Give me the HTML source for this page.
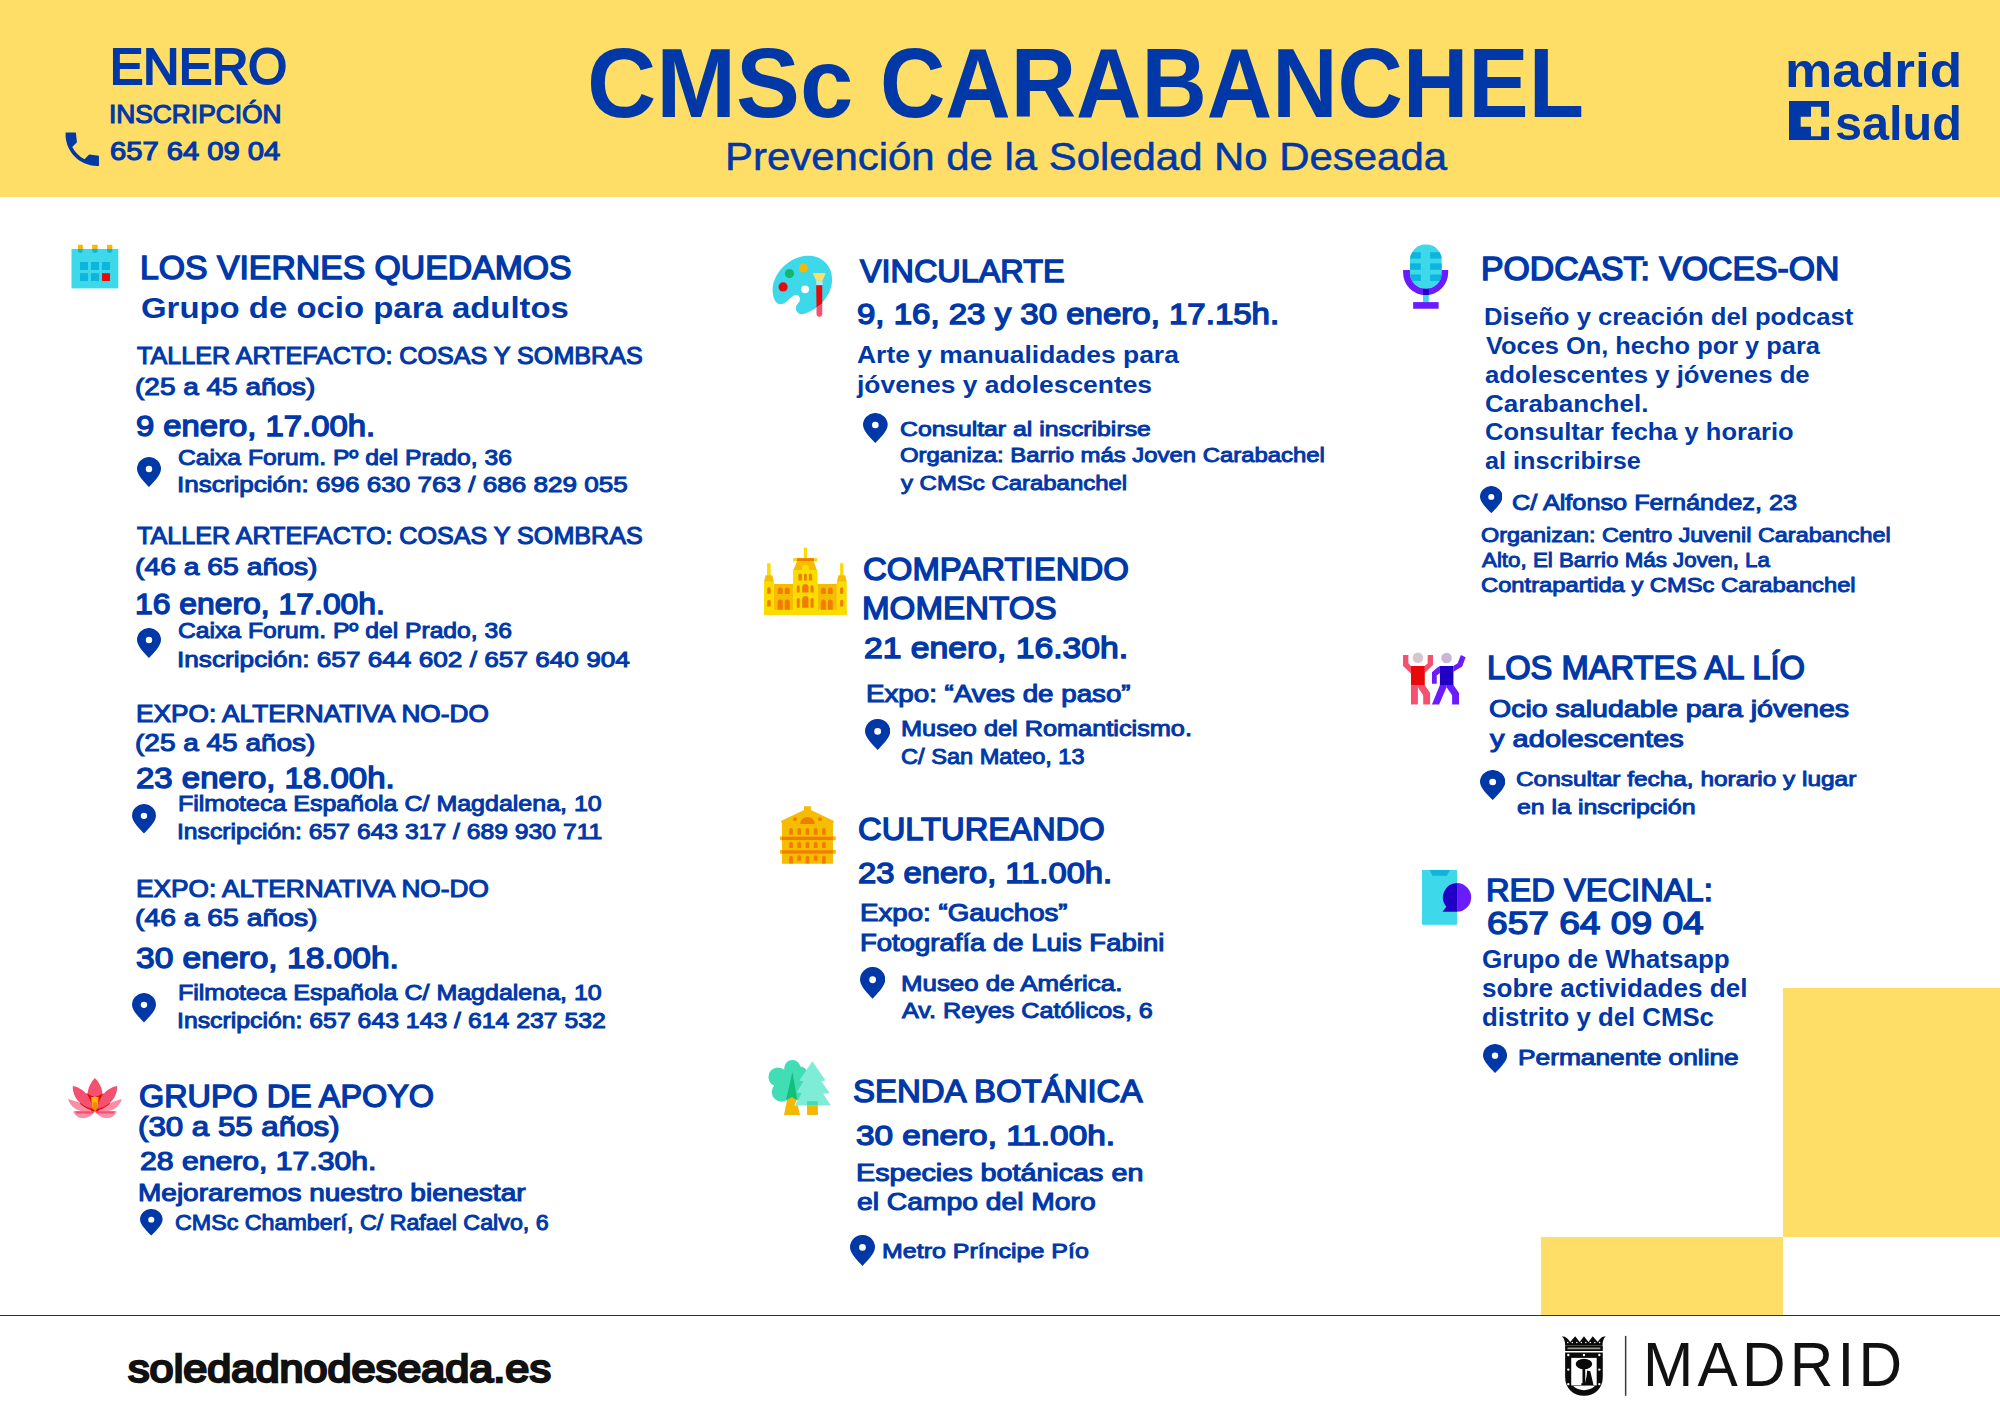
<!DOCTYPE html>
<html lang="es"><head><meta charset="utf-8"><title>CMSc Carabanchel</title>
<style>
html,body{margin:0;padding:0}
body{width:2000px;height:1414px;position:relative;overflow:hidden;background:#fff;font-family:"Liberation Sans",sans-serif}
.band{position:absolute;left:0;top:0;width:2000px;height:197.2px;background:#ffde67}
.sq{position:absolute;background:#ffde67}
.t{position:absolute;white-space:nowrap;line-height:1;color:#0038a8;transform-origin:0 0;-webkit-text-stroke-color:#0038a8}
.m{-webkit-text-stroke-width:0.045em}
.d{-webkit-text-stroke-width:0.047em}
.l{-webkit-text-stroke-width:0.014em}
.x{-webkit-text-stroke-width:0.06em}
.s,.b{font-weight:700}
.pin,.ic{position:absolute;display:block}
.rule{position:absolute;left:0;top:1315px;width:2000px;height:1.4px;background:#303030}
</style></head><body>
<div class="band"></div>
<div class="sq" style="left:1783px;top:987.5px;width:217px;height:249.5px"></div>
<div class="sq" style="left:1540.8px;top:1236.5px;width:242.4px;height:79px"></div>
<div class="rule"></div>
<div class="t m" style="left:109.67px;top:42.18px;font-size:49.28px;transform:scaleX(1.0099)">ENERO</div>
<div class="t m" style="left:109.27px;top:101.16px;font-size:26.28px;transform:scaleX(1.0015)">INSCRIPCIÓN</div>
<div class="t m" style="left:110.05px;top:139.04px;font-size:25.62px;transform:scaleX(1.1382)">657 64 09 04</div>
<div class="t b" style="left:587.04px;top:34.29px;font-size:98.18px;transform:scaleX(0.9762)">CMSc</div>
<div class="t b" style="left:880.01px;top:34.29px;font-size:98.18px;transform:scaleX(0.9221)">CARABANCHEL</div>
<div class="t l" style="left:725.46px;top:137.50px;font-size:38.08px;transform:scaleX(1.1002)">Prevención de la Soledad No Deseada</div>
<div class="t m" style="left:140.13px;top:251.68px;font-size:32.59px;transform:scaleX(1.0366)">LOS VIERNES QUEDAMOS</div>
<div class="t s" style="left:140.59px;top:293.18px;font-size:30.03px;transform:scaleX(1.0965)">Grupo de ocio para adultos</div>
<div class="t m" style="left:137.00px;top:344.37px;font-size:24.31px;transform:scaleX(1.0336)">TALLER ARTEFACTO: COSAS Y SOMBRAS</div>
<div class="t m" style="left:134.85px;top:374.87px;font-size:24.31px;transform:scaleX(1.1515)">(25 a 45 años)</div>
<div class="t d" style="left:136.21px;top:411.92px;font-size:28.83px;transform:scaleX(1.1384)">9 enero, 17.00h.</div>
<div class="t m" style="left:178.25px;top:446.59px;font-size:22.34px;transform:scaleX(1.1047)">Caixa Forum. Pº del Prado, 36</div>
<div class="t m" style="left:177.17px;top:474.09px;font-size:22.34px;transform:scaleX(1.1675)">Inscripción: 696 630 763 / 686 829 055</div>
<div class="t m" style="left:137.00px;top:523.87px;font-size:24.31px;transform:scaleX(1.0336)">TALLER ARTEFACTO: COSAS Y SOMBRAS</div>
<div class="t m" style="left:134.84px;top:554.87px;font-size:24.31px;transform:scaleX(1.1644)">(46 a 65 años)</div>
<div class="t d" style="left:135.31px;top:589.92px;font-size:28.83px;transform:scaleX(1.1058)">16 enero, 17.00h.</div>
<div class="t m" style="left:178.25px;top:619.59px;font-size:22.34px;transform:scaleX(1.1047)">Caixa Forum. Pº del Prado, 36</div>
<div class="t m" style="left:177.16px;top:648.59px;font-size:22.34px;transform:scaleX(1.1731)">Inscripción: 657 644 602 / 657 640 904</div>
<div class="t m" style="left:136.42px;top:701.87px;font-size:24.31px;transform:scaleX(1.0800)">EXPO: ALTERNATIVA NO-DO</div>
<div class="t m" style="left:134.85px;top:731.37px;font-size:24.31px;transform:scaleX(1.1515)">(25 a 45 años)</div>
<div class="t d" style="left:136.11px;top:763.92px;font-size:28.83px;transform:scaleX(1.1446)">23 enero, 18.00h.</div>
<div class="t m" style="left:177.56px;top:792.59px;font-size:22.34px;transform:scaleX(1.1194)">Filmoteca Española C/ Magdalena, 10</div>
<div class="t m" style="left:177.27px;top:820.59px;font-size:22.34px;transform:scaleX(1.1064)">Inscripción: 657 643 317 / 689 930 711</div>
<div class="t m" style="left:136.42px;top:876.87px;font-size:24.31px;transform:scaleX(1.0800)">EXPO: ALTERNATIVA NO-DO</div>
<div class="t m" style="left:134.84px;top:906.37px;font-size:24.31px;transform:scaleX(1.1644)">(46 a 65 años)</div>
<div class="t d" style="left:136.47px;top:943.92px;font-size:28.83px;transform:scaleX(1.1631)">30 enero, 18.00h.</div>
<div class="t m" style="left:177.56px;top:981.59px;font-size:22.34px;transform:scaleX(1.1194)">Filmoteca Española C/ Magdalena, 10</div>
<div class="t m" style="left:177.26px;top:1009.59px;font-size:22.34px;transform:scaleX(1.1107)">Inscripción: 657 643 143 / 614 237 532</div>
<div class="t m" style="left:139.07px;top:1080.59px;font-size:31.54px;transform:scaleX(1.0262)">GRUPO DE APOYO</div>
<div class="t m" style="left:137.74px;top:1114.09px;font-size:26.94px;transform:scaleX(1.1603)">(30 a 55 años)</div>
<div class="t d" style="left:139.50px;top:1147.50px;font-size:26.21px;transform:scaleX(1.1508)">28 enero, 17.30h.</div>
<div class="t m" style="left:138.36px;top:1182.45px;font-size:23.65px;transform:scaleX(1.1845)">Mejoraremos nuestro bienestar</div>
<div class="t m" style="left:174.80px;top:1211.59px;font-size:22.34px;transform:scaleX(1.0421)">CMSc Chamberí, C/ Rafael Calvo, 6</div>
<div class="t m" style="left:859.58px;top:254.63px;font-size:32.19px;transform:scaleX(1.0064)">VINCULARTE</div>
<div class="t d" style="left:857.20px;top:299.28px;font-size:30.14px;transform:scaleX(1.0958)">9, 16, 23 y 30 enero, 17.15h.</div>
<div class="t s" style="left:857.15px;top:343.47px;font-size:24.72px;transform:scaleX(1.0697)">Arte y manualidades para</div>
<div class="t s" style="left:857.41px;top:373.47px;font-size:24.72px;transform:scaleX(1.0684)">jóvenes y adolescentes</div>
<div class="t m" style="left:899.64px;top:417.73px;font-size:21.02px;transform:scaleX(1.1800)">Consultar al inscribirse</div>
<div class="t m" style="left:899.73px;top:444.33px;font-size:21.02px;transform:scaleX(1.1367)">Organiza: Barrio más Joven Carabachel</div>
<div class="t m" style="left:900.71px;top:471.53px;font-size:21.02px;transform:scaleX(1.1390)">y CMSc Carabanchel</div>
<div class="t m" style="left:863.38px;top:553.23px;font-size:32.19px;transform:scaleX(1.0236)">COMPARTIENDO</div>
<div class="t m" style="left:862.43px;top:591.63px;font-size:32.19px;transform:scaleX(1.0303)">MOMENTOS</div>
<div class="t d" style="left:863.50px;top:633.28px;font-size:30.14px;transform:scaleX(1.1180)">21 enero, 16.30h.</div>
<div class="t m" style="left:865.95px;top:681.59px;font-size:24.18px;transform:scaleX(1.1470)">Expo: “Aves de paso”</div>
<div class="t m" style="left:900.96px;top:718.07px;font-size:21.55px;transform:scaleX(1.1738)">Museo del Romanticismo.</div>
<div class="t m" style="left:901.10px;top:745.67px;font-size:21.55px;transform:scaleX(1.0950)">C/ San Mateo, 13</div>
<div class="t m" style="left:857.98px;top:812.63px;font-size:32.19px;transform:scaleX(1.0169)">CULTUREANDO</div>
<div class="t d" style="left:858.12px;top:857.64px;font-size:29.49px;transform:scaleX(1.1099)">23 enero, 11.00h.</div>
<div class="t m" style="left:860.36px;top:900.80px;font-size:24.05px;transform:scaleX(1.1503)">Expo: “Gauchos”</div>
<div class="t m" style="left:859.87px;top:931.30px;font-size:24.05px;transform:scaleX(1.1439)">Fotografía de Luis Fabini</div>
<div class="t m" style="left:900.91px;top:972.59px;font-size:22.34px;transform:scaleX(1.1580)">Museo de América.</div>
<div class="t m" style="left:902.14px;top:999.89px;font-size:22.34px;transform:scaleX(1.1272)">Av. Reyes Católicos, 6</div>
<div class="t m" style="left:852.53px;top:1075.97px;font-size:31.8px;transform:scaleX(1.0367)">SENDA BOTÁNICA</div>
<div class="t d" style="left:855.65px;top:1121.20px;font-size:28.51px;transform:scaleX(1.1703)">30 enero, 11.00h.</div>
<div class="t m" style="left:855.83px;top:1161.76px;font-size:23.0px;transform:scaleX(1.2486)">Especies botánicas en</div>
<div class="t m" style="left:856.87px;top:1191.26px;font-size:23.0px;transform:scaleX(1.2285)">el Campo del Moro</div>
<div class="t m" style="left:881.83px;top:1239.73px;font-size:21.02px;transform:scaleX(1.1883)">Metro Príncipe Pío</div>
<div class="t m" style="left:1480.93px;top:252.88px;font-size:32.59px;transform:scaleX(1.0364)">PODCAST: VOCES-ON</div>
<div class="t s" style="left:1484.28px;top:304.57px;font-size:24.72px;transform:scaleX(1.0380)">Diseño y creación del podcast</div>
<div class="t s" style="left:1485.62px;top:333.57px;font-size:24.72px;transform:scaleX(1.0271)">Voces On, hecho por y para</div>
<div class="t s" style="left:1485.17px;top:362.77px;font-size:24.72px;transform:scaleX(1.0410)">adolescentes y jóvenes de</div>
<div class="t s" style="left:1484.88px;top:391.77px;font-size:24.72px;transform:scaleX(1.0528)">Carabanchel.</div>
<div class="t s" style="left:1484.90px;top:420.17px;font-size:24.72px;transform:scaleX(1.0307)">Consultar fecha y horario</div>
<div class="t s" style="left:1485.18px;top:449.17px;font-size:24.72px;transform:scaleX(1.0214)">al inscribirse</div>
<div class="t m" style="left:1512.24px;top:491.69px;font-size:22.34px;transform:scaleX(1.1312)">C/ Alfonso Fernández, 23</div>
<div class="t m" style="left:1480.65px;top:524.50px;font-size:20.37px;transform:scaleX(1.1490)">Organizan: Centro Juvenil Carabanchel</div>
<div class="t m" style="left:1481.59px;top:549.90px;font-size:20.37px;transform:scaleX(1.0967)">Alto, El Barrio Más Joven, La</div>
<div class="t m" style="left:1480.57px;top:574.70px;font-size:20.37px;transform:scaleX(1.1657)">Contrapartida y CMSc Carabanchel</div>
<div class="t m" style="left:1486.61px;top:651.65px;font-size:32.85px;transform:scaleX(0.9958)">LOS MARTES AL LÍO</div>
<div class="t m" style="left:1489.06px;top:697.69px;font-size:23.26px;transform:scaleX(1.2272)">Ocio saludable para jóvenes</div>
<div class="t m" style="left:1490.19px;top:728.49px;font-size:23.26px;transform:scaleX(1.2490)">y adolescentes</div>
<div class="t m" style="left:1516.24px;top:770.35px;font-size:19.97px;transform:scaleX(1.2224)">Consultar fecha, horario y lugar</div>
<div class="t m" style="left:1516.51px;top:798.15px;font-size:19.97px;transform:scaleX(1.2478)">en la inscripción</div>
<div class="t m" style="left:1485.65px;top:875.25px;font-size:31.93px;transform:scaleX(1.0225)">RED VECINAL:</div>
<div class="t m" style="left:1486.51px;top:908.33px;font-size:31.27px;transform:scaleX(1.1868)">657 64 09 04</div>
<div class="t s" style="left:1481.84px;top:947.44px;font-size:25.7px;transform:scaleX(1.0154)">Grupo de Whatsapp</div>
<div class="t s" style="left:1481.71px;top:976.44px;font-size:25.7px;transform:scaleX(1.0159)">sobre actividades del</div>
<div class="t s" style="left:1481.89px;top:1005.34px;font-size:25.7px;transform:scaleX(1.0030)">distrito y del CMSc</div>
<div class="t m" style="left:1517.51px;top:1047.69px;font-size:21.42px;transform:scaleX(1.2284)">Permanente online</div>
<div class="t b" style="left:1784.94px;top:45.92px;font-size:48.18px;transform:scaleX(1.1035);color:#0038a8;-webkit-text-stroke-color:#0038a8">madrid</div>
<div class="t b" style="left:1834.88px;top:98.72px;font-size:48.18px;transform:scaleX(1.0091);color:#0038a8;-webkit-text-stroke-color:#0038a8">salud</div>
<div class="t x" style="left:128.22px;top:1348.75px;font-size:39.3px;transform:scaleX(1.1000);color:#111111;-webkit-text-stroke-color:#111111">soledadnodeseada.es</div>
<div class="t r" style="left:1643.34px;top:1334.19px;font-size:62.15px;transform:scaleX(0.9713);letter-spacing:0.07em;color:#111111;-webkit-text-stroke-color:#111111">MADRID</div>
<svg class="pin" style="left:137px;top:457px;width:24px;height:30px" viewBox="0 0 745 935" preserveAspectRatio="none"><path d="M372 935C250 800 0 560 0 372A372 372 0 0 1 745 372C745 560 495 800 372 935ZM372 275a100 100 0 1 0 0 200a100 100 0 1 0 0-200Z" fill="#0038a8" fill-rule="evenodd"/></svg>
<svg class="pin" style="left:137px;top:628px;width:24px;height:30px" viewBox="0 0 745 935" preserveAspectRatio="none"><path d="M372 935C250 800 0 560 0 372A372 372 0 0 1 745 372C745 560 495 800 372 935ZM372 275a100 100 0 1 0 0 200a100 100 0 1 0 0-200Z" fill="#0038a8" fill-rule="evenodd"/></svg>
<svg class="pin" style="left:132px;top:804px;width:24px;height:29.5px" viewBox="0 0 745 935" preserveAspectRatio="none"><path d="M372 935C250 800 0 560 0 372A372 372 0 0 1 745 372C745 560 495 800 372 935ZM372 275a100 100 0 1 0 0 200a100 100 0 1 0 0-200Z" fill="#0038a8" fill-rule="evenodd"/></svg>
<svg class="pin" style="left:132px;top:993px;width:24px;height:29.5px" viewBox="0 0 745 935" preserveAspectRatio="none"><path d="M372 935C250 800 0 560 0 372A372 372 0 0 1 745 372C745 560 495 800 372 935ZM372 275a100 100 0 1 0 0 200a100 100 0 1 0 0-200Z" fill="#0038a8" fill-rule="evenodd"/></svg>
<svg class="pin" style="left:140px;top:1209.2px;width:22.6px;height:26.6px" viewBox="0 0 745 935" preserveAspectRatio="none"><path d="M372 935C250 800 0 560 0 372A372 372 0 0 1 745 372C745 560 495 800 372 935ZM372 275a100 100 0 1 0 0 200a100 100 0 1 0 0-200Z" fill="#0038a8" fill-rule="evenodd"/></svg>
<svg class="pin" style="left:863.3px;top:413px;width:24.7px;height:30px" viewBox="0 0 745 935" preserveAspectRatio="none"><path d="M372 935C250 800 0 560 0 372A372 372 0 0 1 745 372C745 560 495 800 372 935ZM372 275a100 100 0 1 0 0 200a100 100 0 1 0 0-200Z" fill="#0038a8" fill-rule="evenodd"/></svg>
<svg class="pin" style="left:864.7px;top:719px;width:25.3px;height:31px" viewBox="0 0 745 935" preserveAspectRatio="none"><path d="M372 935C250 800 0 560 0 372A372 372 0 0 1 745 372C745 560 495 800 372 935ZM372 275a100 100 0 1 0 0 200a100 100 0 1 0 0-200Z" fill="#0038a8" fill-rule="evenodd"/></svg>
<svg class="pin" style="left:859.6px;top:967px;width:25.3px;height:31.8px" viewBox="0 0 745 935" preserveAspectRatio="none"><path d="M372 935C250 800 0 560 0 372A372 372 0 0 1 745 372C745 560 495 800 372 935ZM372 275a100 100 0 1 0 0 200a100 100 0 1 0 0-200Z" fill="#0038a8" fill-rule="evenodd"/></svg>
<svg class="pin" style="left:850px;top:1234.5px;width:25px;height:31px" viewBox="0 0 745 935" preserveAspectRatio="none"><path d="M372 935C250 800 0 560 0 372A372 372 0 0 1 745 372C745 560 495 800 372 935ZM372 275a100 100 0 1 0 0 200a100 100 0 1 0 0-200Z" fill="#0038a8" fill-rule="evenodd"/></svg>
<svg class="pin" style="left:1479.6px;top:485.6px;width:22.6px;height:27.2px" viewBox="0 0 745 935" preserveAspectRatio="none"><path d="M372 935C250 800 0 560 0 372A372 372 0 0 1 745 372C745 560 495 800 372 935ZM372 275a100 100 0 1 0 0 200a100 100 0 1 0 0-200Z" fill="#0038a8" fill-rule="evenodd"/></svg>
<svg class="pin" style="left:1479.6px;top:770px;width:25.4px;height:30px" viewBox="0 0 745 935" preserveAspectRatio="none"><path d="M372 935C250 800 0 560 0 372A372 372 0 0 1 745 372C745 560 495 800 372 935ZM372 275a100 100 0 1 0 0 200a100 100 0 1 0 0-200Z" fill="#0038a8" fill-rule="evenodd"/></svg>
<svg class="pin" style="left:1482.7px;top:1043.5px;width:24.1px;height:29px" viewBox="0 0 745 935" preserveAspectRatio="none"><path d="M372 935C250 800 0 560 0 372A372 372 0 0 1 745 372C745 560 495 800 372 935ZM372 275a100 100 0 1 0 0 200a100 100 0 1 0 0-200Z" fill="#0038a8" fill-rule="evenodd"/></svg>
<svg class="ic" style="left:60.23px;top:127.43px;width:44.53px;height:44.53px" viewBox="0 0 24 24"><path fill="#0038a8" d="M21 15.46l-5.27-.61-2.52 2.52c-2.83-1.44-5.15-3.75-6.59-6.59l2.53-2.53L8.54 3H3.03C2.45 13.18 10.82 21.55 21 20.97v-5.51z"/></svg>
<svg class="ic" style="left:50px;top:120px;width:120px;height:200px" viewBox="50 120 120 200"><rect x="71.5" y="249" width="46.8" height="39.4" fill="#3dd9eb"/><rect x="77.9" y="244.8" width="4.9" height="4.4" fill="#f5b800"/><path d="M77.9 249h4.9v1.6a2.45 2.4 0 0 1 -4.9 0z" fill="#0db4db"/><rect x="92.2" y="244.8" width="5.5" height="4.4" fill="#f5b800"/><path d="M92.2 249h5.5v1.6a2.75 2.4 0 0 1 -5.5 0z" fill="#0db4db"/><rect x="107" y="244.8" width="5.3" height="4.4" fill="#f5b800"/><path d="M107 249h5.3v1.6a2.65 2.4 0 0 1 -5.3 0z" fill="#0db4db"/><rect x="80" y="262" width="8" height="8.0" fill="#0db4db"/><rect x="91" y="262" width="8" height="8.0" fill="#0db4db"/><rect x="102" y="262" width="8" height="8.0" fill="#0db4db"/><rect x="80" y="273.2" width="8" height="7.8" fill="#0db4db"/><rect x="91" y="273.2" width="8" height="7.8" fill="#0db4db"/><rect x="102" y="273.2" width="8" height="7.8" fill="#e80a0a"/></svg>
<svg class="ic" style="left:750px;top:240px;width:120px;height:90px" viewBox="0 0 1885 1414"><path fill="#3dd9eb" d="M900 248C1130 240 1290 400 1290 620C1290 880 1060 1110 830 1165C760 1180 700 1100 725 1040C745 990 800 960 785 910C770 860 715 850 670 885C600 940 550 1010 480 1010C400 1010 355 900 355 790C355 520 620 258 900 248Z"/><circle cx="840" cy="440" r="72" fill="#f5b800"/><circle cx="620" cy="527" r="72" fill="#12b76a"/><circle cx="520" cy="737" r="72" fill="#e80a0a"/><circle cx="865" cy="775" r="62" fill="#fff"/><path d="M985 520H1190L1140 640H1040Z" fill="#ffde67"/><rect x="1040" y="640" width="100" height="72" fill="#a8eef2"/><path d="M1040 710H1135V1000L1045 1060Z" fill="#e80a0a"/><path d="M1135 1000V1160a45 45 0 0 1 -90 0V1060Z" fill="#f45170"/></svg>
<svg class="ic" style="left:750px;top:540px;width:120px;height:90px" viewBox="0 0 1885 1414"><rect x="268" y="365" width="57" height="195" fill="#fadc00"/><rect x="1415" y="365" width="53" height="195" fill="#fadc00"/><rect x="845" y="120" width="50" height="170" fill="#fadc00"/><rect x="375" y="690" width="300" height="410" fill="#f5bc00"/><rect x="1060" y="690" width="305" height="410" fill="#f5bc00"/><rect x="220" y="655" width="155" height="525" fill="#fadc00"/><rect x="1365" y="655" width="155" height="525" fill="#fadc00"/><path d="M245 555H350L375 655H220Z" fill="#f5bc00"/><path d="M1390 555H1495L1520 655H1365Z" fill="#f5bc00"/><rect x="220" y="1095" width="1300" height="85" fill="#fadc00"/><rect x="675" y="470" width="385" height="630" fill="#fadc00"/><path d="M740 335H1000L1050 470H680Z" fill="#f5bc00"/><rect x="675" y="285" width="385" height="50" fill="#fadc00"/><rect x="735" y="285" width="270" height="50" fill="#f07d00"/><path d="M820 470V430a52 40 0 0 1 105 0V470Z" fill="#fadc00"/><path d="M760 635V557.5a27.5 30 0 0 1 55 0V635Z" fill="#f07d00"/><path d="M848 635V552.5a22.5 25 0 0 1 45 0V635Z" fill="#f07d00"/><path d="M925 635V555.0a25.0 28 0 0 1 50 0V635Z" fill="#f07d00"/><path d="M735 825V737.5a22.5 25 0 0 1 45 0V825Z" fill="#f07d00"/><path d="M735 1065V937.5a22.5 25 0 0 1 45 0V1065Z" fill="#f07d00"/><path d="M950 825V740.0a25.0 28 0 0 1 50 0V825Z" fill="#f07d00"/><path d="M950 1065V940.0a25.0 28 0 0 1 50 0V1065Z" fill="#f07d00"/><path d="M820 825V745.0a50.0 55 0 0 1 100 0V825Z" fill="#f07d00"/><path d="M820 1065V935.0a50.0 55 0 0 1 100 0V1065Z" fill="#f07d00"/><path d="M435 850V790.0a40.0 44 0 0 1 80 0V850Z" fill="#f07d00"/><path d="M435 1095V980.0a40.0 44 0 0 1 80 0V1095Z" fill="#f07d00"/><path d="M545 850V790.0a40.0 44 0 0 1 80 0V850Z" fill="#f07d00"/><path d="M545 1095V980.0a40.0 44 0 0 1 80 0V1095Z" fill="#f07d00"/><path d="M1115 850V787.5a37.5 41 0 0 1 75 0V850Z" fill="#f07d00"/><path d="M1115 1095V977.5a37.5 41 0 0 1 75 0V1095Z" fill="#f07d00"/><path d="M1225 850V787.5a37.5 41 0 0 1 75 0V850Z" fill="#f07d00"/><path d="M1225 1095V977.5a37.5 41 0 0 1 75 0V1095Z" fill="#f07d00"/><path d="M270 845V772.5a27.5 30 0 0 1 55 0V845Z" fill="#f07d00"/><path d="M270 1045V967.5a27.5 30 0 0 1 55 0V1045Z" fill="#f07d00"/><path d="M1415 845V770.0a25.0 28 0 0 1 50 0V845Z" fill="#f07d00"/><path d="M1415 1045V965.0a25.0 28 0 0 1 50 0V1045Z" fill="#f07d00"/></svg>
<svg class="ic" style="left:760px;top:795px;width:100px;height:75px" viewBox="0 0 1885 1414"><path d="M395 490L830 285V210H960V285L1395 490L1375 540V1295H415V540Z" fill="#f5bc00"/><rect x="375" y="780" width="1055" height="72" fill="#f5bc00"/><rect x="415" y="788" width="960" height="62" fill="#f07d00"/><rect x="375" y="1035" width="1055" height="72" fill="#f5bc00"/><rect x="415" y="1043" width="960" height="62" fill="#f07d00"/><path d="M755 545a140 130 0 0 1 280 0Z" fill="#f07d00"/><circle cx="660" cy="455" r="36" fill="#f07d00"/><circle cx="1130" cy="455" r="36" fill="#f07d00"/><path d="M550 750V660.0a35.0 38 0 0 1 70 0V750Z" fill="#f07d00"/><path d="M550 1000V920.0a35.0 38 0 0 1 70 0V1000Z" fill="#f07d00"/><path d="M705 750V660.0a35.0 38 0 0 1 70 0V750Z" fill="#f07d00"/><path d="M705 1000V920.0a35.0 38 0 0 1 70 0V1000Z" fill="#f07d00"/><path d="M860 750V660.0a35.0 38 0 0 1 70 0V750Z" fill="#f07d00"/><path d="M860 1000V920.0a35.0 38 0 0 1 70 0V1000Z" fill="#f07d00"/><path d="M1015 750V660.0a35.0 38 0 0 1 70 0V750Z" fill="#f07d00"/><path d="M1015 1000V920.0a35.0 38 0 0 1 70 0V1000Z" fill="#f07d00"/><path d="M1170 750V660.0a35.0 38 0 0 1 70 0V750Z" fill="#f07d00"/><path d="M1170 1000V920.0a35.0 38 0 0 1 70 0V1000Z" fill="#f07d00"/><path d="M550 1290V1185.0a35.0 38 0 0 1 70 0V1290Z" fill="#f07d00"/><path d="M705 1240V1175.0a35.0 38 0 0 1 70 0V1240Z" fill="#f07d00"/><path d="M860 1290V1185.0a35.0 38 0 0 1 70 0V1290Z" fill="#f07d00"/><path d="M1015 1240V1175.0a35.0 38 0 0 1 70 0V1240Z" fill="#f07d00"/><path d="M1170 1290V1185.0a35.0 38 0 0 1 70 0V1290Z" fill="#f07d00"/></svg>
<svg class="ic" style="left:750px;top:1050px;width:100px;height:75px" viewBox="0 0 1885 1414"><g fill="#41ddb5"><circle cx="800" cy="345" r="155"/><circle cx="525" cy="510" r="178"/><circle cx="595" cy="790" r="185"/><circle cx="940" cy="460" r="150"/><rect x="560" y="370" width="460" height="575"/></g><path d="M800 415L890 940H680Z" fill="#12c07a"/><path d="M790 885L880 945L835 1045H900L945 1225H640L700 945Z" fill="#f5b800"/><path d="M1175 210L1425 575L1345 590L1505 815L1380 825L1525 1045H845L975 815L880 800L1010 590L930 575Z" fill="#7fecd8"/><rect x="1075" y="965" width="205" height="80" fill="#41ddb5"/><rect x="1075" y="1045" width="205" height="180" fill="#f5b800"/></svg>
<svg class="ic" style="left:50px;top:1065px;width:100px;height:75px" viewBox="0 0 1885 1414"><path d="M340 640C520 680 740 780 848 870C700 900 560 880 470 820C400 770 355 700 340 640Z" fill="#f98fa7"/><path d="M1355 640C1175 680 955 780 848 870C995 900 1135 880 1225 820C1295 770 1340 700 1355 640Z" fill="#f98fa7"/><path d="M435 870H848C800 950 720 1000 620 1000C530 1000 470 950 435 870Z" fill="#f98fa7"/><path d="M1262 870H848C896 950 976 1000 1076 1000C1166 1000 1226 950 1262 870Z" fill="#f98fa7"/><path d="M470 870H848L810 915H500Z" fill="#f45170"/><path d="M1228 870H848L886 915H1198Z" fill="#f45170"/><defs><clipPath id="lc"><path d="M560 900V735L700 520H995L1135 735V900Z"/></clipPath></defs><g clip-path="url(#lc)"><path d="M430 398C560 420 690 500 770 640C810 720 850 800 848 865C720 850 560 760 490 640C440 550 425 470 430 398Z" fill="#e80a0a"/><path d="M1265 398C1135 420 1005 500 925 640C885 720 845 800 848 865C975 850 1135 760 1205 640C1255 550 1270 470 1265 398Z" fill="#e80a0a"/></g><path d="M700 525L848 600L990 525L915 870H780Z" fill="#e80a0a"/><path d="M430 398C560 420 690 500 770 640C810 720 850 800 848 865C720 850 560 760 490 640C440 550 425 470 430 398Z" fill="#f45170" transform="translate(430 398) scale(0.9 0.915) translate(-430 -398)"/><path d="M1265 398C1135 420 1005 500 925 640C885 720 845 800 848 865C975 850 1135 760 1205 640C1255 550 1270 470 1265 398Z" fill="#f45170" transform="translate(1265 398) scale(0.9 0.915) translate(-1265 -398)"/><path d="M848 245C930 330 985 440 985 530C960 570 900 590 848 600C796 590 736 570 712 530C712 440 765 330 848 245Z" fill="#f45170"/><path d="M775 605H915L900 800L850 865L795 800Z" fill="#f5b800"/><path d="M815 700H880L900 800L850 865L795 800Z" fill="#f08a00"/></svg>
<svg class="ic" style="left:1380px;top:235px;width:100px;height:75px" viewBox="0 0 1885 1414"><path d="M435 660H565V710a295 295 0 0 0 590 0V660H1285V710a425 425 0 0 1 -850 0Z" fill="#6b1cff"/><rect x="810" y="1010" width="110" height="125" fill="#1f00c4"/><rect x="810" y="1135" width="110" height="135" fill="#3dd9eb"/><rect x="625" y="1265" width="480" height="125" fill="#6b1cff"/><defs><clipPath id="mc"><rect x="565" y="175" width="600" height="840" rx="300" ry="300"/></clipPath></defs><g clip-path="url(#mc)"><rect x="565" y="175" width="600" height="840" fill="#3dd9eb"/><rect x="565" y="325" width="205" height="120" fill="#0db4db"/><rect x="945" y="325" width="220" height="120" fill="#0db4db"/><rect x="565" y="535" width="205" height="120" fill="#0db4db"/><rect x="945" y="535" width="220" height="120" fill="#0db4db"/><rect x="565" y="745" width="205" height="120" fill="#0db4db"/><rect x="945" y="745" width="220" height="120" fill="#0db4db"/></g></svg>
<svg class="ic" style="left:1385px;top:640px;width:100px;height:75px" viewBox="0 0 1885 1414"><circle cx="620" cy="335" r="100" fill="#d5c6d2"/><path d="M340 285H440V440L490 490V630L340 490Z" fill="#f45170"/><path d="M805 285H905V470L750 620V490L805 440Z" fill="#f45170"/><rect x="490" y="850" width="130" height="365" fill="#f45170"/><path d="M620 850H750L850 1000V1215H720V1040L620 890Z" fill="#f45170"/><rect x="490" y="490" width="260" height="360" fill="#e80a0a"/><circle cx="1160" cy="340" r="100" fill="#c8b6d8"/><path d="M1035 490V620L975 670V825H885V610L1000 510Z" fill="#6b1cff"/><path d="M1290 490L1370 440L1430 285L1520 325L1455 500L1290 600Z" fill="#6b1cff"/><path d="M1035 850H1160V890L1020 1215H885Z" fill="#6b1cff"/><path d="M1160 850H1290L1395 1000V1215H1265V1040L1160 890Z" fill="#6b1cff"/><rect x="1035" y="490" width="255" height="360" fill="#1f00c4"/></svg>
<svg class="ic" style="left:1400px;top:860px;width:100px;height:75px" viewBox="0 0 1885 1414"><rect x="415" y="188" width="660" height="1034" fill="#3dd9eb"/><path d="M560 188H940L885 297H610Z" fill="#0db4db"/><defs><clipPath id="cl"><rect x="0" y="0" width="1075" height="1414"/></clipPath><clipPath id="cr"><rect x="1075" y="0" width="900" height="1414"/></clipPath></defs><g clip-path="url(#cl)" fill="#1f00c4"><path d="M1070 433a272 272 0 1 1 0 544H800L875 880A272 272 0 0 1 1070 433Z"/></g><g clip-path="url(#cr)" fill="#6b1cff"><path d="M1070 433a272 272 0 1 1 0 544H800L875 880A272 272 0 0 1 1070 433Z"/></g></svg>
<svg class="ic" style="left:1550px;top:1325px;width:100px;height:75px" viewBox="0 0 1885 1414"><path fill="#0a0a0a" d="M225 210C300 215 340 260 380 320L475 210L560 320L640 210L725 320L805 210L900 320C940 260 975 215 1050 210C1000 260 990 320 990 390H285C285 320 275 260 225 210Z"/><rect x="285" y="395" width="710" height="95" fill="#0a0a0a"/><rect x="330" y="425" width="620" height="32" fill="#9a9a90"/><g fill="#fff"><circle cx="335" cy="328" r="14"/><circle cx="420" cy="328" r="14"/><circle cx="505" cy="328" r="14"/><circle cx="590" cy="328" r="14"/><circle cx="675" cy="328" r="14"/><circle cx="760" cy="328" r="14"/><circle cx="845" cy="328" r="14"/><circle cx="935" cy="328" r="14"/></g><path fill="#0a0a0a" d="M285 520H995V980C995 1200 840 1335 640 1335C440 1335 285 1200 285 980Z"/><rect x="400" y="620" width="480" height="520" fill="#fff"/><path d="M440 1150H845C800 1200 720 1228 640 1228C560 1228 485 1200 440 1150Z" fill="#fff"/><ellipse cx="640" cy="735" rx="155" ry="98" fill="#0a0a0a"/><rect x="612" y="820" width="52" height="315" fill="#0a0a0a"/><path d="M700 860L760 870L820 1130H590V1100H660L690 960Z" fill="#0a0a0a"/><g fill="#fff"><circle cx="345" cy="565" r="22"/><circle cx="640" cy="565" r="22"/><circle cx="930" cy="565" r="22"/><circle cx="345" cy="840" r="22"/><circle cx="930" cy="840" r="22"/><circle cx="345" cy="1115" r="22"/><circle cx="930" cy="1115" r="22"/></g><rect x="1412" y="205" width="28" height="1130" fill="#3a3a3a"/></svg>
<svg class="ic" style="left:1788.5px;top:101px;width:40.2px;height:39.4px" viewBox="0 0 40.2 39.4"><path fill="#0038a8" fill-rule="evenodd" d="M0 0H40.2V15.7H32.2V5.7H22V15.7H11.7V25.8H22V35.2H32.2V25.8H40.2V39.4H0Z"/></svg>
</body></html>
